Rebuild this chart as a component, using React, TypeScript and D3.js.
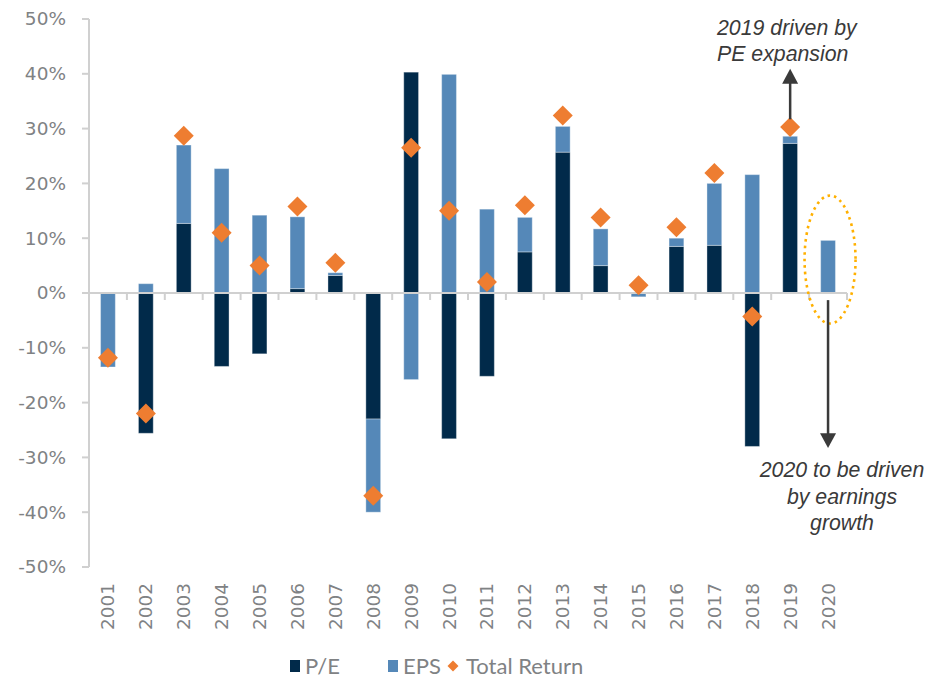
import React from "react";
import * as d3 from "d3";

const years = ["2001","2002","2003","2004","2005","2006","2007","2008","2009","2010","2011","2012","2013","2014","2015","2016","2017","2018","2019","2020"];
const peValues = [0, -25.6, 12.7, -13.4, -11.1, 0.8, 3.2, -23.0, 40.3, -26.6, -15.2, 7.5, 25.7, 5.0, 0, 8.5, 8.7, -28.0, 27.3, 0];
const epsValues = [-13.5, 1.7, 14.3, 22.7, 14.2, 13.1, 0.5, -17.0, -15.8, 39.9, 15.3, 6.3, 4.7, 6.7, -0.7, 1.5, 11.3, 21.6, 1.3, 9.6];
const totalReturn: (number | null)[] = [-11.8, -22.0, 28.7, 11.0, 5.0, 15.8, 5.5, -37.0, 26.5, 15.0, 2.0, 16.0, 32.4, 13.8, 1.4, 12.0, 21.9, -4.3, 30.3, null];
const yTicks = [50, 40, 30, 20, 10, 0, -10, -20, -30, -40, -50];
const seriesNames = ["P/E", "EPS", "Total Return"];

const W = 927, H = 679;
const PE_COLOR = "#012a4a";
const EPS_COLOR = "#5588b8";
const TR_COLOR = "#ee7d31";
const AXIS_COLOR = "#d0d0d0";
const LABEL_COLOR = "#7f8284";
const NOTE_COLOR = "#3a3a3a";

export default function App() {
  const left = 89, right = 847, top = 19, bottom = 567;
  const x = d3.scaleBand<string>().domain(years).range([left, right]).paddingInner(0.61).paddingOuter(0.305);
  const y = d3.scaleLinear().domain([-50, 50]).range([bottom, top]);
  const bw = x.bandwidth();
  const cx = (yr: string) => (x(yr) as number) + bw / 2;

  const rows = years.map((yr, i) => ({ year: yr, pe: peValues[i], eps: epsValues[i] }));
  const stack = d3.stack<any>().keys(["pe", "eps"]).offset(d3.stackOffsetDiverging);
  const layers = stack(rows);
  const colors = [PE_COLOR, EPS_COLOR];

  const step = (right - left) / years.length;
  const diamond = d3.symbol().type(d3.symbolSquare).size(200)();
  const legendDiamond = d3.symbol().type(d3.symbolSquare).size(60)();

  const x2019 = cx("2019");
  const x2020 = cx("2020");
  const font = "'DejaVu Sans', sans-serif";
  const noteFont = "'Liberation Sans', Arial, sans-serif";

  return (
    <svg width={W} height={H} style={{ position: "absolute", left: 0, top: 0, background: "#fff" }}>
      {/* y axis */}
      <line x1={left} x2={left} y1={top} y2={bottom} stroke={AXIS_COLOR} strokeWidth={2} />
      {yTicks.map((t) => (
        <g key={t}>
          <line x1={left - 7} x2={left} y1={y(t)} y2={y(t)} stroke={AXIS_COLOR} strokeWidth={2} />
          <text x={66} y={y(t)} dy="0.35em" textAnchor="end" fontFamily={font} fontSize={18.5} fill={LABEL_COLOR}>
            {t}%
          </text>
        </g>
      ))}
      {/* bars */}
      {layers.map((layer, li) =>
        layer.map((d, i) => {
          const y0 = y(d[0]), y1 = y(d[1]);
          const h = Math.abs(y0 - y1);
          if (h < 0.01) return null;
          return (
            <rect key={li + "-" + i} x={x(years[i])} y={Math.min(y0, y1)} width={bw} height={h}
              fill={colors[li]} stroke="#ffffff" strokeOpacity={0.35} strokeWidth={1} />
          );
        })
      )}
      {/* x axis */}
      <line x1={left} x2={right} y1={y(0)} y2={y(0)} stroke={AXIS_COLOR} strokeWidth={2} />
      {d3.range(1, years.length + 1).map((k) => (
        <line key={k} x1={left + k * step} x2={left + k * step} y1={y(0)} y2={y(0) + 7} stroke={AXIS_COLOR} strokeWidth={2} />
      ))}
      {years.map((yr) => (
        <text key={yr} transform={`translate(${cx(yr)},583) rotate(-90)`} dy="0.35em" textAnchor="end"
          fontFamily={font} fontSize={18.5} fill={LABEL_COLOR}>
          {yr}
        </text>
      ))}
      {/* total return diamonds */}
      {totalReturn.map((v, i) =>
        v == null ? null : (
          <path key={i} d={diamond as string} transform={`translate(${cx(years[i])},${y(v)}) rotate(45)`} fill={TR_COLOR} />
        )
      )}
      {/* annotations */}
      <line x1={x2019} x2={x2019} y1={y(31.7)} y2={y(38.6)} stroke={NOTE_COLOR} strokeWidth={2.5} />
      <path d={`M${x2019},${y(40.9)} L${x2019 - 8},${y(38.2)} L${x2019 + 8},${y(38.2)} Z`} fill={NOTE_COLOR} />
      <text fontFamily={noteFont} fontStyle="italic" fontSize={21.3} fill={NOTE_COLOR}>
        <tspan x={717} y={35}>2019 driven by</tspan>
        <tspan x={717} y={61}>PE expansion</tspan>
      </text>
      <ellipse cx={x2020 + 2} cy={y(6.1)} rx={25.5} ry={64} fill="none" stroke="#ffb000" strokeWidth={2.6}
        strokeDasharray="2.6 4" strokeLinecap="butt" />
      <line x1={x2020} x2={x2020} y1={y(-1.3)} y2={y(-26)} stroke={NOTE_COLOR} strokeWidth={2.5} />
      <path d={`M${x2020},${y(-28.3)} L${x2020 - 8},${y(-25.6)} L${x2020 + 8},${y(-25.6)} Z`} fill={NOTE_COLOR} />
      <text fontFamily={noteFont} fontStyle="italic" fontSize={21.3} fill={NOTE_COLOR} textAnchor="middle">
        <tspan x={842} y={477}>2020 to be driven</tspan>
        <tspan x={842} y={504}>by earnings</tspan>
        <tspan x={842} y={530}>growth</tspan>
      </text>
      {/* legend */}
      <g fontFamily="Lato, sans-serif" fontSize={22} fill={LABEL_COLOR}>
        <rect x={290} y={660} width={10} height={12} fill={PE_COLOR} />
        <text x={305} y={674}>{seriesNames[0]}</text>
        <rect x={388} y={660} width={10} height={12} fill={EPS_COLOR} />
        <text x={403} y={674}>{seriesNames[1]}</text>
        <path d={legendDiamond as string} transform={`translate(453,666) rotate(45)`} fill={TR_COLOR} />
        <text x={466} y={674}>{seriesNames[2]}</text>
      </g>
    </svg>
  );
}
